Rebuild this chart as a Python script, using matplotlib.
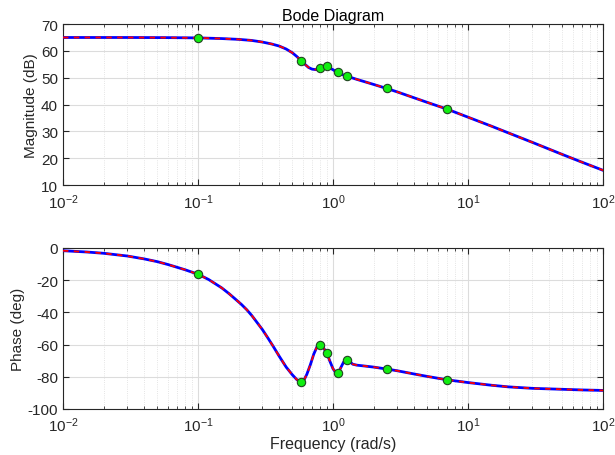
import numpy as np
import matplotlib
matplotlib.use('Agg')
import matplotlib.pyplot as plt

plt.rcParams['font.family'] = ['Liberation Sans', 'DejaVu Sans']
plt.rcParams['font.size'] = 11
plt.rcParams['mathtext.fontset'] = 'custom'
plt.rcParams['mathtext.rm'] = 'Liberation Sans'
plt.rcParams['axes.unicode_minus'] = False

# magnitude curve
mag_freq = [0.01, 0.03, 0.06, 0.1, 0.15, 0.2, 0.25, 0.3, 0.35, 0.4, 0.45, 0.5, 0.54,
            0.58, 0.62, 0.66, 0.7, 0.75, 0.8, 0.85, 0.9, 0.95, 1.0, 1.05, 1.1, 1.2,
            1.3, 1.5, 1.8, 2.0, 2.5, 3.0, 4.0, 5.0, 7.0, 10, 15, 20, 30, 50, 70, 100]
mag_db = [65.0, 65.0, 64.95, 64.85, 64.6, 64.3, 63.9, 63.3, 62.6, 61.8, 60.7, 59.3, 57.9,
          56.4, 55.0, 53.8, 53.2, 53.0, 53.3, 53.8, 54.0, 53.6, 53.0, 52.3, 51.7, 51.0,
          50.4, 49.4, 48.2, 47.5, 46.0, 44.7, 42.5, 40.8, 38.3, 35.3, 31.9, 29.4, 25.9,
          21.4, 18.5, 15.5]

# phase curve
ph_freq = [0.01, 0.015, 0.02, 0.03, 0.04, 0.05, 0.06, 0.07, 0.08, 0.1, 0.12, 0.15, 0.17,
           0.19, 0.21, 0.23, 0.25, 0.27, 0.3, 0.33, 0.36, 0.4, 0.45, 0.5, 0.54, 0.58, 0.61,
           0.64, 0.68, 0.72, 0.76, 0.8, 0.85, 0.9, 0.95, 1.0, 1.05, 1.09, 1.14, 1.2, 1.27,
           1.33, 1.4, 1.5, 1.7, 2.0, 2.5, 3.0, 4.0, 5.0, 7.0, 10, 15, 20, 30, 50, 70, 100]
ph_deg = [-1.7, -2.5, -3.3, -5.0, -6.8, -8.5, -10.3, -12.0, -13.5, -16.3, -19.6, -24.8, -28.4,
          -31.9, -35.1, -38.4, -41.9, -45.6, -50.7, -56.0, -61.0, -67.3, -74.0, -78.8, -81.8, -83.4, -82.0,
          -78.5, -72.5, -66.0, -61.5, -60.2, -62.0, -65.3, -70.5, -75.0, -77.5, -77.7, -74.5, -70.8, -69.5,
          -70.5, -72.2, -72.8, -73.3, -74.0, -75.2, -76.3, -78.3, -79.8, -81.9, -83.6, -85.3, -86.3, -87.2,
          -87.8, -88.2, -88.5]

# measured points
pt_freq = [0.1, 0.58, 0.8, 0.9, 1.08, 1.26, 2.5, 7.0]
pt_mag = [64.9, 56.3, 53.6, 54.4, 52.0, 50.6, 46.0, 38.3]
pt_phase = [-16.3, -83.4, -60.2, -65.5, -77.7, -69.5, -75.2, -81.8]

axcol = '#262626'

fig = plt.figure(figsize=(6.15, 4.56), dpi=100)
ax1 = fig.add_axes([0.1024, 0.592, 0.8781, 0.353])
ax2 = fig.add_axes([0.1024, 0.101, 0.8781, 0.353])

for ax, f, y, py in [(ax1, mag_freq, mag_db, pt_mag), (ax2, ph_freq, ph_deg, pt_phase)]:
    ax.semilogx(f, y, color='blue', lw=2.0, solid_joinstyle='round', zorder=3)
    ax.semilogx(f, y, color='red', lw=1.3, ls=(0, (3, 3)), zorder=4)
    ax.plot(pt_freq, py, 'o', ms=6, mfc='#11ee11', mec='#224422', mew=0.8, zorder=5)
    ax.set_xlim(1e-2, 1e2)
    ax.grid(True, which='major', color='#dcdcdc', lw=0.8, zorder=0)
    ax.grid(True, which='minor', color='#dcdcdc', lw=0.6, ls=':', zorder=0)
    ax.tick_params(which='both', direction='in', top=True, right=True, colors=axcol, labelsize=11)
    ax.tick_params(which='major', length=4)
    ax.tick_params(which='minor', length=2.5)
    ax.tick_params(axis='x', pad=5)
    for s in ax.spines.values():
        s.set_color(axcol)
        s.set_linewidth(0.8)

ax1.set_ylim(10, 70)
ax1.set_yticks(np.arange(10, 71, 10))
ax1.set_ylabel('Magnitude (dB)', color=axcol, fontsize=11, labelpad=2)
ax1.set_title('Bode Diagram', color='black', fontsize=11.5, pad=3)

ax2.set_ylim(-100, 0)
ax2.set_yticks(np.arange(-100, 1, 20))
ax2.set_ylabel('Phase (deg)', color=axcol, fontsize=11, labelpad=2)
ax2.set_xlabel('Frequency (rad/s)', color=axcol, fontsize=11.5, labelpad=1)

fig.savefig('out.png', dpi=100)
